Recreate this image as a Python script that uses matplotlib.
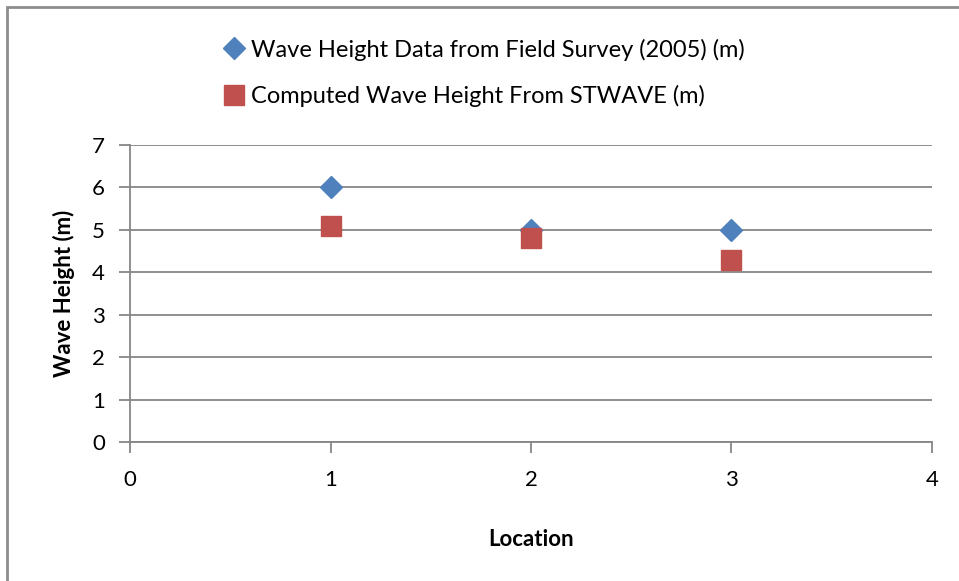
import matplotlib.pyplot as plt
from matplotlib.patches import Rectangle

plt.rcParams['font.family'] = ['Lato', 'DejaVu Sans']

location = [1, 2, 3]
field_survey = [6, 5, 5]
stwave = [5.1, 4.8, 4.3]

fig = plt.figure(figsize=(9.59, 5.81), dpi=100)
ax = fig.add_axes([130/959, 1-442/581, (932-130)/959, (442-145)/581])

ax.plot(location, field_survey, linestyle='none', marker='D', markersize=11,
        color='#4F81BD', label='Wave Height Data from Field Survey (2005) (m)')
ax.plot(location, stwave, linestyle='none', marker='s', markersize=14,
        color='#C0504D', label='Computed Wave Height From STWAVE (m)')

ax.set_xlim(0, 4)
ax.set_ylim(0, 7)
ax.set_xticks(range(5))
ax.set_yticks(range(8))
ax.grid(axis='y', color='#868686', linewidth=1.3)
ax.set_axisbelow(True)
for s in ['top', 'right']:
    ax.spines[s].set_visible(False)
for s in ['left', 'bottom']:
    ax.spines[s].set_color('#868686')
    ax.spines[s].set_linewidth(1.3)
ax.tick_params(axis='both', colors='#868686', width=1.3, length=8, labelsize=16,
               labelcolor='black')
ax.tick_params(axis='x', pad=12)
ax.tick_params(axis='y', pad=10)

ax.set_xlabel('Location', fontsize=16, fontweight='bold', labelpad=28)
ax.set_ylabel('Wave Height (m)', fontsize=16, fontweight='bold', labelpad=12)

ax.legend(loc='upper left', bbox_to_anchor=(213/959, 1-29/581),
          bbox_transform=fig.transFigure, frameon=False, fontsize=17,
          handlelength=1.0, handletextpad=0.2, labelspacing=1.05, borderaxespad=0)

fig.patches.append(Rectangle((7/959, -0.1), 1.1, 1.1 - 7/581, transform=fig.transFigure,
                             fill=False, edgecolor='#8c8c8c', linewidth=2))

fig.savefig('out.png', dpi=100)
